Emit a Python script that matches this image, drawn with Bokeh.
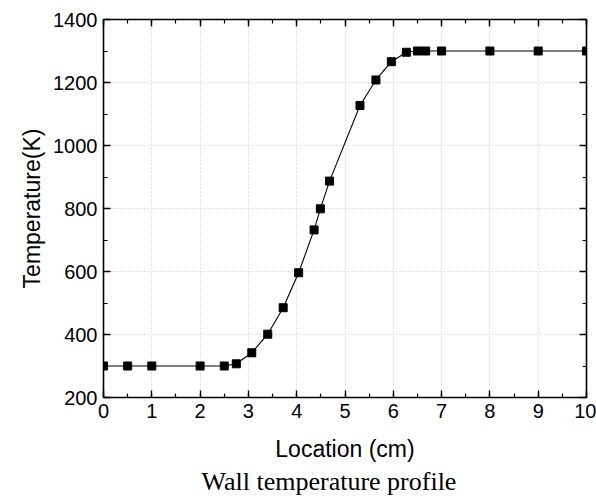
from bokeh.plotting import figure
from bokeh.models import LinearAxis, Range1d, Title, SingleIntervalTicker
from bokeh.embed import file_html
from bokeh.resources import INLINE

# Wall temperature along the channel
location_cm = [0, 0.5, 1, 2, 2.5, 2.75, 3.07, 3.4, 3.72, 4.04, 4.36, 4.49, 4.68,
               5.31, 5.64, 5.96, 6.27, 6.5, 6.67, 7, 8, 9, 10]
temperature_k = [300, 300, 300, 300, 300, 307, 342, 401, 485, 596, 732, 799, 887,
                 1127, 1208, 1266, 1296, 1300, 1300, 1300, 1300, 1300, 1300]

x_ticks = list(range(0, 11))
y_ticks = [200, 400, 600, 800, 1000, 1200, 1400]

SANS = "Liberation Sans"
SERIF = "Liberation Serif"

p = figure(
    frame_width=483, frame_height=378,
    x_range=Range1d(0, 10), y_range=Range1d(200, 1400),
    output_backend="svg", toolbar_location=None,
    min_border_left=103, min_border_right=10,
    min_border_top=19, min_border_bottom=0,
    background_fill_color="white", border_fill_color="white",
)
p.outline_line_color = None


def style_axis(ax, show_labels):
    ax.axis_line_color = "black"
    ax.axis_line_width = 1.6
    ax.major_tick_in = 7
    ax.major_tick_out = 0
    ax.minor_tick_in = 4
    ax.minor_tick_out = 0
    ax.major_tick_line_color = "black"
    ax.minor_tick_line_color = "black"
    ax.major_tick_line_width = 1.4
    ax.minor_tick_line_width = 1.2
    ax.major_label_text_font = SANS
    ax.major_label_text_font_size = "20px"
    ax.major_label_text_color = "black" if show_labels else None
    ax.axis_label_text_font = SANS
    ax.axis_label_text_font_size = "23px"
    ax.axis_label_text_font_style = "normal"
    ax.axis_label_text_color = "black"


xt = SingleIntervalTicker(interval=1, num_minor_ticks=2)
yt = SingleIntervalTicker(interval=200, num_minor_ticks=2)

p.xaxis.ticker = xt
p.yaxis.ticker = yt
p.xaxis.axis_label = "Location (cm)"
p.yaxis.axis_label = "Temperature(K)"
style_axis(p.xaxis[0], True)
style_axis(p.yaxis[0], True)
p.xaxis.major_label_standoff = 6
p.yaxis.major_label_standoff = 6
p.xaxis.axis_label_standoff = 15
p.yaxis.axis_label_standoff = 5

top = LinearAxis(ticker=SingleIntervalTicker(interval=1, num_minor_ticks=2))
right = LinearAxis(ticker=SingleIntervalTicker(interval=200, num_minor_ticks=2))
style_axis(top, False)
style_axis(right, False)
top.major_label_text_font_size = "0px"
right.major_label_text_font_size = "0px"
top.major_label_standoff = 0
right.major_label_standoff = 0
p.add_layout(top, "above")
p.add_layout(right, "right")

p.xgrid.ticker = xt
p.ygrid.ticker = yt
p.grid.grid_line_color = "#dadada"
p.grid.grid_line_dash = "2 2"
p.grid.grid_line_width = 1

p.line(location_cm, temperature_k, line_color="black", line_width=1.1)
p.scatter(location_cm, temperature_k, marker="square", size=8,
          fill_color="black", line_color="black")

caption = Title(text="Wall temperature profile", align="left", offset=98,
                text_font=SERIF, text_font_size="26px", text_font_style="normal",
                text_color="black", standoff=0, text_line_height=1.0)
p.add_layout(caption, "below")

open("out.html", "w").write(file_html(p, INLINE))
